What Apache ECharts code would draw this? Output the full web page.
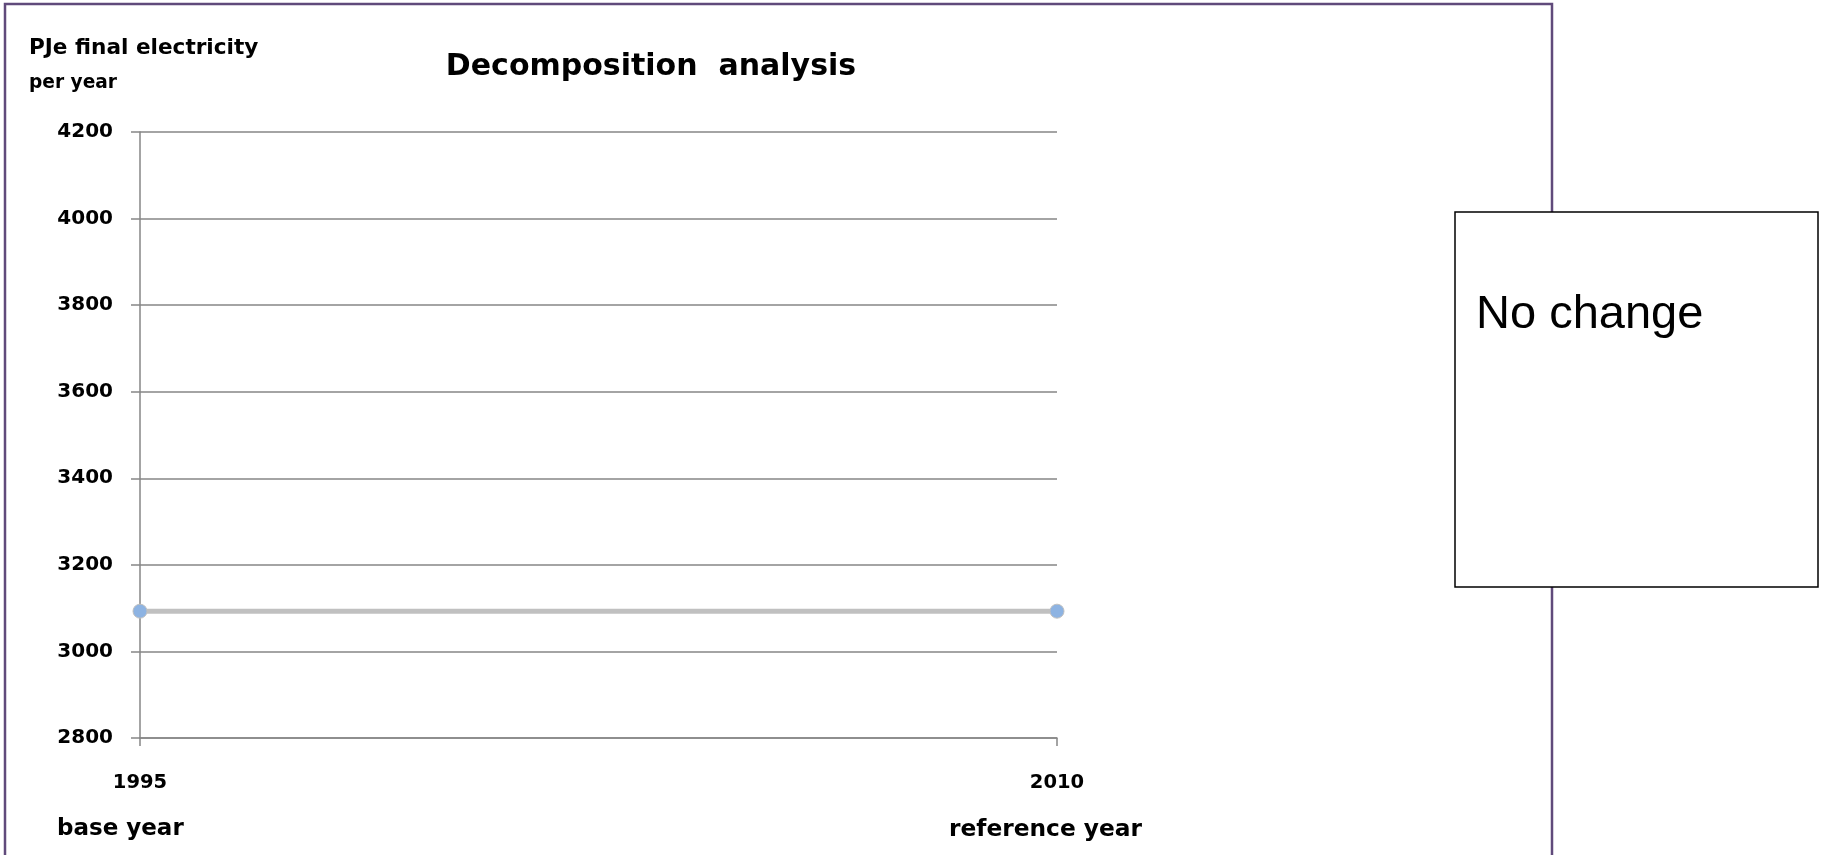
<!DOCTYPE html>
<html>
<head>
<meta charset="utf-8">
<script src="https://cdn.jsdelivr.net/npm/echarts@6/dist/echarts.min.js"></script>
<style>
  html, body { margin: 0; padding: 0; background: #fff; }
</style>
</head>
<body>
<div id="main" style="width: 1829px;height:855px;"></div>
<script>
  // chart data
  var years = ['1995', '2010'];
  var electricity = [3093, 3093];
  var yTicks = { min: 2800, max: 4200, step: 200 };
  var legendText = 'No change';

  var font = '"DejaVu Sans", sans-serif';
  var myChart = echarts.init(document.getElementById('main'));
  var option = {
    animation: false,
    backgroundColor: '#fff',
    title: {
      text: 'Decomposition  analysis',
      left: 646,
      top: 47,
      textAlign: 'center',
      textStyle: { fontFamily: font, fontWeight: 'bold', fontSize: 30, color: '#000' }
    },
    grid: {
      left: 140,
      right: 1829 - 1057,
      top: 132,
      bottom: 855 - 738
    },
    xAxis: {
      type: 'category',
      data: years,
      boundaryGap: false,
      axisLine: { lineStyle: { color: '#868686', width: 1.5 } },
      axisTick: { show: true, length: 8, lineStyle: { color: '#868686', width: 1.5 } },
      axisLabel: {
        margin: 35,
        fontFamily: font, fontWeight: 'bold', fontSize: 19.5, color: '#000'
      },
      splitLine: { show: false }
    },
    yAxis: {
      type: 'value',
      min: yTicks.min,
      max: yTicks.max,
      interval: yTicks.step,
      axisLine: { show: true, lineStyle: { color: '#868686', width: 1.5 } },
      axisTick: { show: true, length: 9, lineStyle: { color: '#868686', width: 1.5 } },
      axisLabel: {
        margin: 27,
        formatter: function (v) { return String(v); },
        fontFamily: font, fontWeight: 'bold', fontSize: 20, color: '#000'
      },
      splitLine: { show: true, lineStyle: { color: '#868686', width: 1.5 } }
    },
    series: [{
      type: 'line',
      name: legendText,
      data: electricity,
      symbol: 'circle',
      symbolSize: 14,
      lineStyle: { color: '#c0c0c0', width: 5 },
      itemStyle: { color: '#8db3e2', borderColor: '#c0c0c0', borderWidth: 1 }
    }],
    graphic: [
      {
        type: 'rect',
        shape: { x: 5, y: 4, width: 1547, height: 900 },
        style: { fill: 'none', stroke: '#604a7b', lineWidth: 2.5 },
        z: -1
      },
      {
        type: 'text',
        left: 29, top: 37,
        style: { text: 'PJe final electricity', font: 'bold 21.6px ' + font, fill: '#000' }
      },
      {
        type: 'text',
        left: 29, top: 74,
        style: { text: 'per year', font: 'bold 18.6px ' + font, fill: '#000' }
      },
      {
        type: 'text',
        left: 57, top: 818,
        style: { text: 'base year', font: 'bold 23px ' + font, fill: '#000' }
      },
      {
        type: 'text',
        left: 949, top: 818,
        style: { text: 'reference year', font: 'bold 23.3px ' + font, fill: '#000' }
      },
      {
        type: 'rect',
        shape: { x: 1455, y: 212, width: 363, height: 375 },
        style: { fill: '#fff', stroke: '#000', lineWidth: 1.5 },
        z: 10
      },
      {
        type: 'text',
        left: 1476, top: 292,
        style: { text: legendText, font: '47px "Liberation Sans", Arial, sans-serif', fill: '#000' },
        z: 11
      }
    ]
  };
  myChart.setOption(option);
</script>
</body>
</html>
